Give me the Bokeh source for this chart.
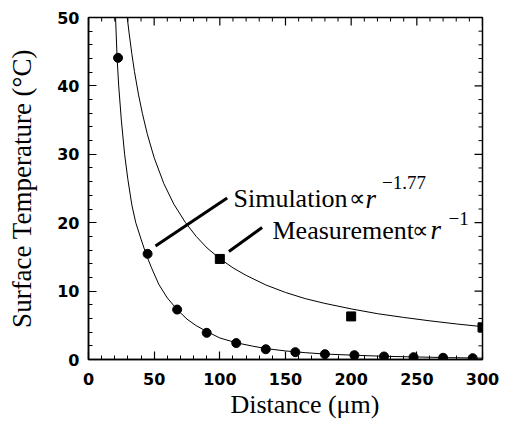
import math
from bokeh.plotting import figure
from bokeh.models import Range1d, FixedTicker, Label, Title
from bokeh.embed import file_html
from bokeh.resources import INLINE

# ---- data ----
sim_x = [22.5, 45, 67.5, 90, 112.5, 135, 157.5, 180, 202.5, 225, 247.5, 270, 292.5]
sim_y = [44.1, 15.45, 7.3, 3.9, 2.4, 1.5, 1.07, 0.78, 0.63, 0.44, 0.34, 0.25, 0.19]

meas_x = [100, 200, 300]
meas_y = [14.7, 6.3, 4.7]

sim_fit_x = [20.6, 21.8, 23, 25, 27.5, 30, 33, 36, 40, 44, 48, 53.5, 60, 67.5, 75, 82, 90,
             100, 112.5, 125, 135, 150, 165, 180, 200, 225, 250, 275, 300]
sim_fit_y = [50, 44, 40, 35, 30, 26.3, 22.6, 20.0, 17.6, 15.3, 13.4, 11.0, 9.0, 7.3, 5.9, 4.95, 4.1,
             3.15, 2.45, 1.95, 1.6, 1.25, 1.0, 0.8, 0.64, 0.47, 0.37, 0.27, 0.2]

meas_fit_x = [29.5, 31, 33, 35, 38, 41, 44.7, 50, 57.4, 65, 73.9, 82, 90.3, 100, 110, 120, 135,
              150, 165, 180, 200, 220, 240, 260, 280, 300]
meas_fit_y = [50, 47.6, 44.7, 42.1, 38.8, 36, 33, 29.5, 25.7, 22.7, 20, 18, 16.3, 14.75, 13.4, 12.3,
              10.9, 9.8, 8.9, 8.2, 7.4, 6.7, 6.15, 5.65, 5.2, 4.8]

x_ticks = [0, 50, 100, 150, 200, 250, 300]
y_ticks = [0, 10, 20, 30, 40, 50]
x_minor = [v for v in range(0, 301, 10) if v % 50 != 0]
y_minor = [v for v in range(0, 51, 2) if v % 10 != 0]

x_title = "Distance (\u03bcm)"
y_title = "Surface Temperature (\u00b0C)"

# annotation anchors (data coordinates)
sim_leader = ([51, 105.6], [16.6, 23.6])
meas_leader = ([106.9, 132.2], [15.8, 19.3])
sim_parts = [("Simulation", 110.4, 23.5, "26px", "normal"),
             ("\u221d", 198.5, 23.5, "23px", "normal"),
             ("r", 210.9, 23.5, "27px", "italic"),
             ("\u22121.77", 223.5, 25.9, "19px", "normal")]
meas_parts = [("Measurement", 140.1, 18.86, "26px", "normal"),
              ("\u221d", 246.7, 18.86, "23px", "normal"),
              ("r", 260.4, 18.86, "27px", "italic"),
              ("\u22121", 274.1, 20.6, "19px", "normal")]

SERIF = "Liberation Serif"
SANS = "DejaVu Sans"

p = figure(width=505, height=421, output_backend="svg", toolbar_location=None,
           x_range=Range1d(0, 300), y_range=Range1d(0, 50),
           min_border_left=88, min_border_right=23, min_border_top=17, min_border_bottom=62)
p.grid.visible = False
p.outline_line_color = "black"
p.outline_line_width = 1.5
p.background_fill_color = "white"
p.border_fill_color = "white"

def style_axis(ax, ticks, minor):
    ax.ticker = FixedTicker(ticks=ticks, minor_ticks=minor)
    ax.axis_line_color = "black"
    ax.axis_line_width = 1.5
    ax.major_tick_in = 8
    ax.major_tick_out = 0
    ax.minor_tick_in = 4
    ax.minor_tick_out = 0
    ax.major_tick_line_width = 1.2
    ax.minor_tick_line_width = 1
    ax.major_label_text_font = SANS
    ax.major_label_text_font_style = "bold"
    ax.major_label_text_font_size = "16px"
    ax.major_label_text_color = "black"
    ax.axis_label_text_font = SERIF
    ax.axis_label_text_font_style = "normal"
    ax.axis_label_text_font_size = "27px"
    ax.axis_label_text_color = "black"

style_axis(p.xaxis[0], x_ticks, x_minor)
style_axis(p.yaxis[0], y_ticks, y_minor)
p.yaxis[0].axis_label = y_title
p.xaxis[0].major_label_standoff = 13
p.yaxis[0].major_label_standoff = 9
p.yaxis[0].axis_label_standoff = 17

# x-axis title (placed off-centre, as in the reference)
p.add_layout(Title(text=x_title, align="left", offset=142, standoff=0,
                   text_font=SERIF, text_font_size="26px", text_font_style="normal",
                   text_color="black"), "below")

# inward ticks on the top and right edges (clipped to the frame)
top_y = p.y_range.end
right_x = p.x_range.end
p.scatter(x_ticks, [top_y] * len(x_ticks), marker="dash", size=16, angle=math.pi / 2,
          line_color="black", line_width=1.2)
p.scatter(x_minor, [top_y] * len(x_minor), marker="dash", size=8, angle=math.pi / 2,
          line_color="black", line_width=1)
p.scatter([right_x] * len(y_ticks), y_ticks, marker="dash", size=16,
          line_color="black", line_width=1.2)
p.scatter([right_x] * len(y_minor), y_minor, marker="dash", size=8,
          line_color="black", line_width=1)

# fit curves
p.line(sim_fit_x, sim_fit_y, line_color="black", line_width=1)
p.line(meas_fit_x, meas_fit_y, line_color="black", line_width=1)

# data markers
p.scatter(sim_x, sim_y, marker="circle", size=9, fill_color="black", line_color="black")
p.scatter(meas_x, meas_y, marker="square", size=9, fill_color="black", line_color="black")

# leader lines
p.line(sim_leader[0], sim_leader[1], line_color="black", line_width=3)
p.line(meas_leader[0], meas_leader[1], line_color="black", line_width=3)

for text, x, y, size, style in sim_parts + meas_parts:
    p.add_layout(Label(x=x, y=y, text=text, text_font=SERIF, text_font_size=size,
                       text_font_style=style, text_color="black", text_baseline="alphabetic",
                       text_align="left"))

open("out.html", "w").write(file_html(p, INLINE))
